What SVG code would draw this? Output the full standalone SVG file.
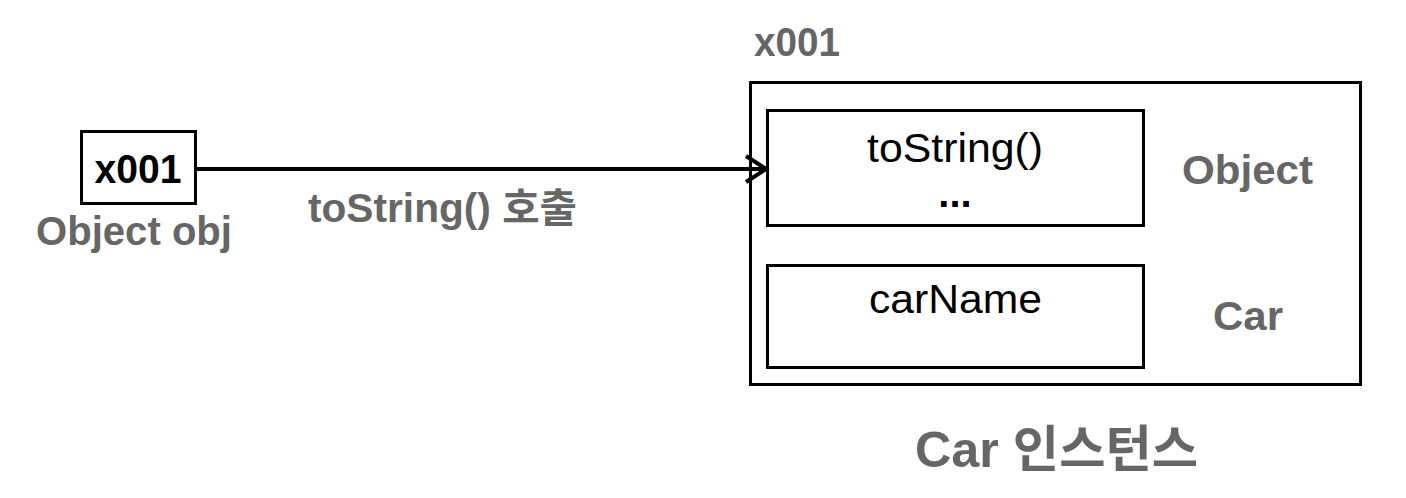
<svg xmlns="http://www.w3.org/2000/svg" width="1406" height="498" viewBox="0 0 1406 498">
<style>
text{font-family:"Liberation Sans","Noto Sans CJK KR",sans-serif;}
.box{fill:#fff;stroke:#000;stroke-width:3;}
.blk{fill:#000;font-size:40px;}
.b{font-weight:bold;}
.gray{fill:#666;font-weight:bold;font-size:40px;}
.conn{stroke:#000;stroke-width:4;fill:none;}
</style>
<rect width="1406" height="498" fill="#fff"/>
<g id="ref">
<rect class="box" x="81.500" y="131.500" width="114" height="72"/>
<text class="blk b" x="138" y="183" text-anchor="middle" textLength="87" lengthAdjust="spacingAndGlyphs">x001</text>
<text class="gray" x="36" y="245" textLength="196" lengthAdjust="spacingAndGlyphs">Object obj</text>
</g>
<g id="instance">
<text class="gray" x="754" y="56" textLength="86" lengthAdjust="spacingAndGlyphs">x001</text>
<rect class="box" x="750.500" y="82.500" width="610" height="302"/>
<text class="gray" x="915" y="467" style="font-size:50px" textLength="283" lengthAdjust="spacingAndGlyphs">Car 인스턴스</text>
</g>
<g id="object-part">
<rect class="box" x="767.500" y="110.500" width="376" height="115"/>
<text class="blk" x="955" y="162" text-anchor="middle" textLength="176" lengthAdjust="spacingAndGlyphs">toString()</text>
<text class="blk b" x="955" y="207" text-anchor="middle">...</text>
<text class="gray" x="1247.500" y="184" text-anchor="middle" textLength="131" lengthAdjust="spacingAndGlyphs">Object</text>
</g>
<g id="car-part">
<rect class="box" x="767.500" y="265.500" width="376" height="102"/>
<text class="blk" x="955.500" y="313" text-anchor="middle" textLength="173" lengthAdjust="spacingAndGlyphs">carName</text>
<text class="gray" x="1248" y="330" text-anchor="middle" textLength="70" lengthAdjust="spacingAndGlyphs">Car</text>
</g>
<g id="connectors">
<line class="conn" x1="196" y1="169" x2="765" y2="169"/>
<polyline class="conn" points="746,156 766,169 746,182"/>
<text class="gray" x="308" y="222" textLength="269" lengthAdjust="spacingAndGlyphs">toString() 호출</text>
</g>
</svg>
